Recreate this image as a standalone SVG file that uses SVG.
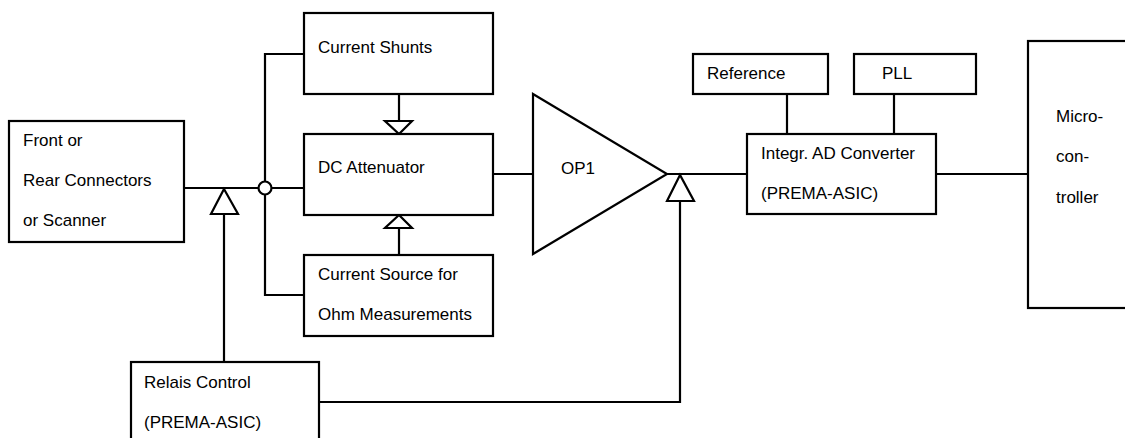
<svg xmlns="http://www.w3.org/2000/svg" width="1125" height="438" viewBox="0 0 1125 438">
<style>
.box{fill:#fff;stroke:#000;stroke-width:2.2}
.ln{fill:none;stroke:#000;stroke-width:2.2}
.tri{fill:#fff;stroke:#000;stroke-width:2.2;stroke-linejoin:miter}
text{font-family:"Liberation Sans",Arial,sans-serif;font-size:17px;fill:#000}
</style>
<rect width="1125" height="438" fill="#fff"/>
<g id="connectors">
<path class="ln" d="M184,188 H304"/>
<path class="ln" d="M304,54 H265 V295 H304"/>
<path class="ln" d="M399,94 V121"/>
<path class="ln" d="M399,228 V255"/>
<path class="ln" d="M492,174 H533"/>
<path class="ln" d="M667,174 H747"/>
<path class="ln" d="M224,214 V362"/>
<path class="ln" d="M319,402 H680 V201"/>
<path class="ln" d="M787,94 V134"/>
<path class="ln" d="M894,94 V134"/>
<path class="ln" d="M936,174 H1028"/>
<circle cx="265" cy="188" r="6.5" fill="#fff" stroke="#000" stroke-width="2.2"/>
<polygon class="tri" points="224,189 211,214 238,214"/>
<polygon class="tri" points="385,121 412,121 399,134"/>
<polygon class="tri" points="399,215 385,228 412,228"/>
<polygon class="tri" points="680,175 667,201 694,201"/>
</g>
<g id="front">
<rect class="box" x="9" y="121" width="175" height="121"/>
<text x="23" y="146">Front or</text>
<text x="23" y="186">Rear Connectors</text>
<text x="23" y="226">or Scanner</text>
</g>
<g id="shunts">
<rect class="box" x="304" y="13" width="189" height="81"/>
<text x="318" y="53">Current Shunts</text>
</g>
<g id="attenuator">
<rect class="box" x="304" y="134" width="189" height="81"/>
<text x="318" y="173">DC Attenuator</text>
</g>
<g id="source">
<rect class="box" x="304" y="255" width="189" height="81"/>
<text x="318" y="280">Current Source for</text>
<text x="318" y="320">Ohm Measurements</text>
</g>
<g id="op1">
<polygon class="tri" points="533,94 667,174 533,254"/>
<text x="561" y="174">OP1</text>
</g>
<g id="reference">
<rect class="box" x="693" y="54" width="135" height="40"/>
<text x="707" y="79">Reference</text>
</g>
<g id="pll">
<rect class="box" x="854" y="54" width="122" height="40"/>
<text x="882" y="79">PLL</text>
</g>
<g id="adc">
<rect class="box" x="747" y="134" width="189" height="80"/>
<text x="761" y="159">Integr. AD Converter</text>
<text x="761" y="199">(PREMA-ASIC)</text>
</g>
<g id="micro">
<rect class="box" x="1028" y="41" width="110" height="267"/>
<text x="1056" y="122">Micro-</text>
<text x="1056" y="162">con-</text>
<text x="1056" y="203">troller</text>
</g>
<g id="relais">
<rect class="box" x="131" y="362" width="188" height="90"/>
<text x="144" y="388">Relais Control</text>
<text x="144" y="428">(PREMA-ASIC)</text>
</g>
</svg>
